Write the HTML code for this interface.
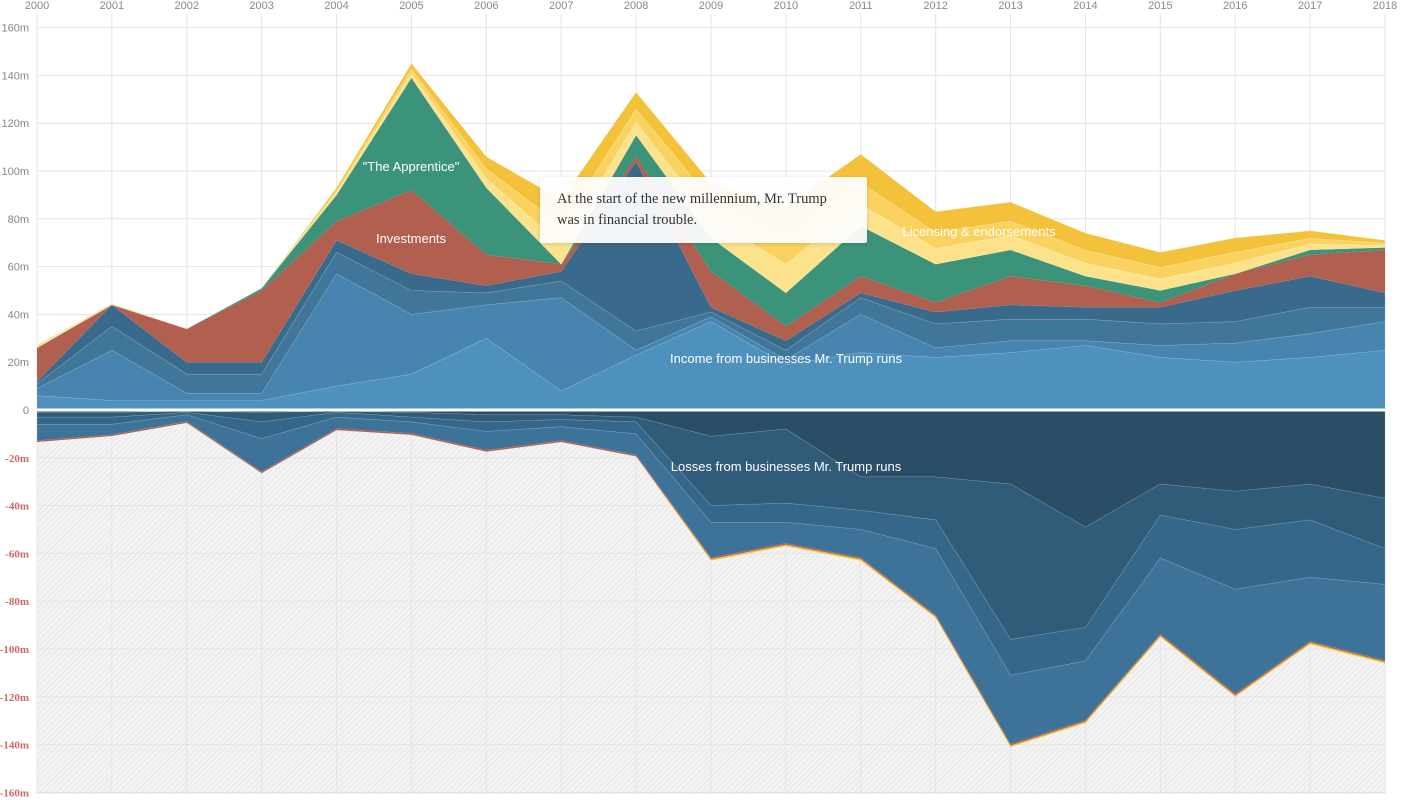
<!DOCTYPE html>
<html><head><meta charset="utf-8"><style>
html,body{margin:0;padding:0;background:#fff;}
svg{display:block;}
</style></head><body>
<svg id="c" width="1404" height="800" xmlns="http://www.w3.org/2000/svg">
<defs>
<pattern id="h" width="4" height="4" patternUnits="userSpaceOnUse" patternTransform="rotate(45)">
<rect width="4" height="4" fill="#f3f3f3"/><line x1="0" y1="0" x2="0" y2="4" stroke="#dcdcdc" stroke-width="1"/>
</pattern>
<filter id="sh" x="-10%" y="-20%" width="120%" height="150%"><feDropShadow dx="0" dy="1" stdDeviation="2" flood-color="#000" flood-opacity="0.15"/></filter>
</defs>
<g id="g"></g>
</svg>
<script>
var X0=37,DX=(1385-37)/18,Y0=410,K=2.39;
function xp(i){return X0+i*DX}
function yp(v){return Y0-v*K}
var g=document.getElementById('g'),s='';
s+='<rect x="37" y="410" width="1348" height="384" fill="url(#h)"/>';
for(var i=0;i<19;i++){s+='<line x1="'+xp(i)+'" y1="14" x2="'+xp(i)+'" y2="794" stroke="#e4e4e4" stroke-width="1"/>';
s+='<text x="'+xp(i)+'" y="9" text-anchor="middle" font-family="Liberation Sans,sans-serif" font-size="11" fill="#888">'+(2000+i)+'</text>';}
for(var v=-160;v<=160;v+=20){var y=yp(v);s+='<line x1="37" y1="'+y+'" x2="1385" y2="'+y+'" stroke="#e4e4e4" stroke-width="1"/>';
var neg=v<0;s+='<text x="29" y="'+(y+4)+'" text-anchor="end" font-family="'+(neg?'Liberation Serif,serif':'Liberation Sans,sans-serif')+'" font-size="11" '+(neg?'font-weight="bold" ':'')+'fill="'+(neg?'#c86a64':'#888')+'">'+(v==0?'0':v+'m')+'</text>';}
function area(lo,hi,col,st){var d='M';for(var i=0;i<19;i++)d+=xp(i)+','+yp(hi[i])+' L';for(var i=18;i>=0;i--)d+=xp(i)+','+yp(lo[i])+(i?' L':' Z');
s+='<path d="'+d+'" fill="'+col+'" stroke="'+(st||'none')+'" stroke-width="0.6"/>';}
var Z=[];for(i=0;i<19;i++)Z.push(0);
var L1=[6,4,4,4,10,15,30,8,23,37,19,24,22,24,27,22,20,22,25];
var L2=[9,25,7,7,57,40,44,47,25,39,21,40,26,29,29,27,28,32,37];
var L3=[11,35,15,15,66,50,49,54,33,41,25,47,36,38,38,36,37,43,43];
var L4=[12,44,20,20,71,57,52,58,104,43,29,49,41,44,43,43,50,56,49];
var L5=[26,44,34,50,79,92,65,61,106,58,35,56,45,56,52,45,57,65,67];
var L6=[26,44,34,51,90,139,93,61,115,72,49,77,61,67,56,50,57,67,68];
var T=[27,44.5,34,51,93,145,106,88,133,95,85,107,83,87,74,66,72,75,71];
var Y1=[],Y2=[];for(i=0;i<19;i++){var d=T[i]-L6[i];Y1.push(L6[i]+d*0.3);Y2.push(L6[i]+d*0.6);}
Y1[10]=61;Y2[10]=72;Y1[9]=80;Y2[9]=88;
var ws='rgba(255,255,255,0.18)';
area(Z,L1,'#4f91bd',ws);area(L1,L2,'#4784b0',ws);area(L2,L3,'#3f7699',ws);area(L3,L4,'#3a6a8b',ws);
area(L4,L5,'#b1604f');area(L5,L6,'#3b9479');area(L6,Y1,'#fde28c','rgba(255,255,255,0.3)');area(Y1,Y2,'#f9d25f','rgba(255,255,255,0.3)');area(Y2,T,'#f3c23a','rgba(255,255,255,0.3)');
var N1=[-1,-1,-0.5,-1,-0.5,-1,-2,-2,-3,-11,-8,-28,-28,-31,-49,-31,-34,-31,-37];
var N2=[-3,-3,-1,-5,-1,-3,-5,-4,-5,-40,-39,-42,-46,-96,-91,-44,-50,-46,-58];
var N3=[-6,-6,-2,-12,-3,-5,-9,-7,-10,-47,-47,-50,-58,-111,-105,-62,-75,-70,-73];
var B=[-14,-11.5,-6,-27,-9,-11,-18,-14,-20,-63,-57,-63,-87,-141,-131,-95,-120,-98,-106];
var B1=[],B2=[];for(i=0;i<19;i++){B1.push(B[i]+1.2);B2.push(B[i]+0.6);}
area(Z,N1,'#2a4e66',ws);area(N1,N2,'#305c79',ws);area(N2,N3,'#35678a',ws);area(N3,B1,'#3d7399',ws);
area(B1,B2,'#b1604f');
var B3=B.slice(),B4=B2.slice();for(i=0;i<9;i++){B4[i]=B[i];}
area(B4,B3,'#f3c23a');
s+='<line x1="37" y1="410" x2="1385" y2="410" stroke="#fff" stroke-width="3"/>';
var f='font-family="Liberation Sans,sans-serif" font-size="13" fill="#fff" text-anchor="middle"';
s+='<text x="411" y="171" '+f+'>"The Apprentice"</text>';
s+='<text x="411" y="243" '+f+'>Investments</text>';
s+='<text x="786" y="363" '+f+'>Income from businesses Mr. Trump runs</text>';
s+='<text x="979" y="236" '+f+'>Licensing &amp; endorsements</text>';
s+='<text x="786" y="471" '+f+'>Losses from businesses Mr. Trump runs</text>';
s+='<rect x="540" y="177" width="327" height="66" rx="2" fill="#fff" fill-opacity="0.93" filter="url(#sh)"/>';
s+='<text font-family="Liberation Serif,serif" font-size="14.5" fill="#333"><tspan x="557" y="203">At the start of the new millennium, Mr. Trump</tspan><tspan x="557" y="224">was in financial trouble.</tspan></text>';
g.innerHTML=s;
</script>
</body></html>
